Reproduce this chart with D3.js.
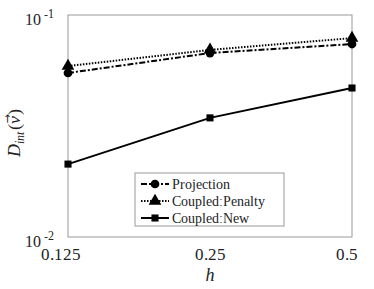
<!DOCTYPE html>
<html>
<head>
<meta charset="UTF-8">
<script src="https://d3js.org/d3.v7.min.js"></script>
<style>
  @font-face { font-family: "PlotSerif"; src: local("Liberation Serif"), local("LiberationSerif"), local("LiberationSerif-Regular"); font-style: normal; }
  @font-face { font-family: "PlotSerif"; src: local("Liberation Serif Italic"), local("LiberationSerif-Italic"); font-style: italic; }
  body { margin: 0; background: #fff; }
  svg text { font-family: "PlotSerif", "Liberation Serif", serif; }
</style>
</head>
<body>
<svg id="chart" width="374" height="289">
  <text x="210" y="281" text-anchor="middle" font-size="18" font-style="italic" fill="#222" style="font-family:'Liberation Serif'">h</text>
</svg>
<script>
// values
var hValues = [0.125, 0.25, 0.5];
var tickLabels = ["0.125", "0.25", "0.5"];
var projection = [0.0548, 0.0674, 0.0740];
var penalty = [0.0589, 0.0696, 0.0787];
var coupledNew = [0.0213, 0.0344, 0.0469];
var seriesNames = ["Projection", "Coupled:Penalty", "Coupled:New"];

var svg = d3.select("#chart");
var plotL = 68, plotR = 352, plotT = 15, plotB = 237;

var x = d3.scaleLog().domain([0.125, 0.5]).range([plotL, plotR]);
var y = d3.scaleLog().domain([0.01, 0.1]).range([plotB, plotT]);

// frame
svg.append("rect")
  .attr("x", plotL).attr("y", plotT)
  .attr("width", plotR - plotL).attr("height", plotB - plotT)
  .attr("fill", "none").attr("stroke", "#999").attr("stroke-width", 1);

// x tick labels
svg.selectAll(".xt").data(hValues).enter().append("text")
  .attr("x", function(d) { return x(d) - (d === 0.125 ? 7 : d === 0.5 ? 5 : 0); })
  .attr("y", 260)
  .attr("text-anchor", "middle")
  .attr("font-size", 17)
  .attr("fill", "#222")
  .text(function(d, i) { return tickLabels[i]; });

// y tick labels 10^-1 and 10^-2
var yTicks = [0.1, 0.01];
var yl = svg.selectAll(".yt").data(yTicks).enter().append("text")
  .attr("x", 25)
  .attr("y", function(d) { return y(d) + 9.5; })
  .attr("font-size", 16)
  .attr("fill", "#222");
yl.append("tspan").text("10");
yl.append("tspan").attr("dx", 3).attr("dy", -7).attr("font-size", 12)
  .text(function(d) { return d === 0.1 ? "-1" : "-2"; });

// y axis title D_int(v)
var yt = svg.append("g")
  .attr("transform", "translate(20,157) rotate(-90)")
  .attr("fill", "#222");
var cx = 0;
function part(str, size, italic, dy) {
  var t = yt.append("text").attr("x", cx).attr("y", dy || 0)
    .attr("font-size", size).attr("font-style", italic ? "italic" : "normal").text(str);
  var w = t.node().getComputedTextLength();
  var start = cx;
  cx += w;
  return { start: start, w: w };
}
part("D", 18, true);
part("int", 12, true, 4);
cx += 2;
part("(", 18, false);
var vp = part("v", 18, true);
yt.append("text").attr("x", vp.start + vp.w / 2 + 1).attr("y", -9)
  .attr("text-anchor", "middle").attr("font-size", 11)
  .style("font-family", "DejaVu Sans").text("\u2192");
cx += 1;
part(")", 18, false);

var line = d3.line()
  .x(function(d, i) { return x(hValues[i]); })
  .y(function(d) { return y(d); });

var styles = [
  { data: projection, dash: "6,2,2,2", marker: d3.symbolCircle, size: 60 },
  { data: penalty, dash: "1.5,1.5", marker: d3.symbolTriangle, size: 70 },
  { data: coupledNew, dash: null, marker: d3.symbolSquare, size: 50 }
];

styles.forEach(function(s) {
  svg.append("path")
    .attr("d", line(s.data))
    .attr("fill", "none").attr("stroke", "#000").attr("stroke-width", 2)
    .attr("stroke-dasharray", s.dash);
  svg.selectAll(null).data(s.data).enter().append("path")
    .attr("transform", function(d, i) { return "translate(" + x(hValues[i]) + "," + y(d) + ")"; })
    .attr("d", d3.symbol().type(s.marker).size(s.size))
    .attr("fill", "#000");
});

// legend
var lg = svg.append("g");
lg.append("rect")
  .attr("x", 135).attr("y", 173).attr("width", 149).attr("height", 53)
  .attr("fill", "#fff").attr("stroke", "#999").attr("stroke-width", 1);
styles.forEach(function(s, i) {
  var ly = 184 + i * 17;
  lg.append("line")
    .attr("x1", 141).attr("x2", 169).attr("y1", ly).attr("y2", ly)
    .attr("stroke", "#000").attr("stroke-width", 2)
    .attr("stroke-dasharray", s.dash);
  lg.append("path")
    .attr("transform", "translate(155," + ly + ")")
    .attr("d", d3.symbol().type(s.marker).size(s.size))
    .attr("fill", "#000");
  lg.append("text")
    .attr("x", 172).attr("y", ly + 5)
    .attr("font-size", 14)
    .attr("fill", "#222")
    .text(seriesNames[i]);
});
</script>
</body>
</html>
